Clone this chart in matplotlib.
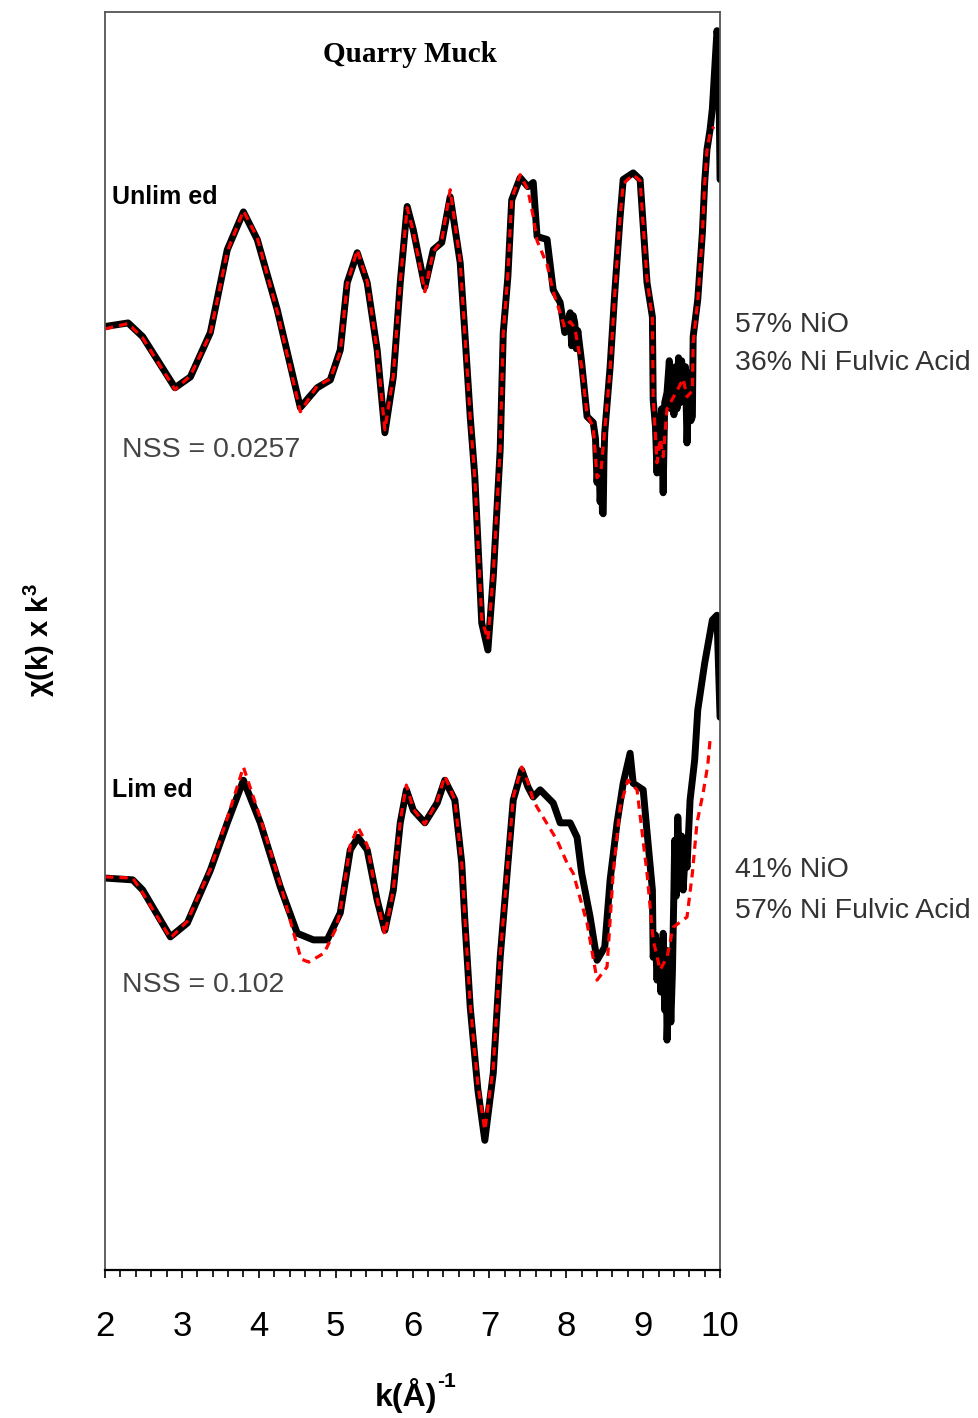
import numpy as np
import matplotlib
matplotlib.use("Agg")
import matplotlib.pyplot as plt
from matplotlib.ticker import MultipleLocator
from matplotlib.transforms import blended_transform_factory

plt.rcParams['font.family'] = ['Liberation Sans', 'DejaVu Sans']
plt.rcParams['mathtext.fontset'] = 'custom'
plt.rcParams['mathtext.rm'] = 'Liberation Sans'
plt.rcParams['mathtext.bf'] = 'Liberation Sans:bold'

# Unlimed sample: data (black) and linear combination fit (red)
k_unlimed = [2.00, 2.30, 2.49, 2.91, 3.11, 3.37, 3.59, 3.80, 3.98, 4.24, 4.54, 4.76, 4.93,
             5.06, 5.15, 5.28, 5.41, 5.54, 5.64, 5.75, 5.84, 5.93, 6.01, 6.16, 6.27, 6.38,
             6.49, 6.62, 6.68, 6.75, 6.81, 6.90, 6.98, 7.05, 7.14, 7.18, 7.24, 7.29, 7.40,
             7.50, 7.57, 7.62, 7.75, 7.83, 7.92, 7.98, 8.05, 8.07, 8.09, 8.11, 8.13, 8.15,
             8.20, 8.27, 8.35, 8.38, 8.40, 8.42, 8.44, 8.46, 8.47, 8.48, 8.49, 8.50, 8.57,
             8.63, 8.70, 8.74, 8.87, 8.96, 9.05, 9.12, 9.13, 9.16, 9.18, 9.20, 9.22, 9.24,
             9.26, 9.28, 9.31, 9.34, 9.36, 9.38, 9.40, 9.42, 9.44, 9.46, 9.48, 9.50, 9.52,
             9.55, 9.57, 9.60, 9.62, 9.64, 9.65, 9.71, 9.77, 9.80, 9.83, 9.87, 9.90, 9.96,
             9.98, 10.00]
chi_unlimed = [-0.03, 0.03, -0.20, -1.05, -0.87, -0.13, 1.25, 1.88, 1.42, 0.25, -1.38, -1.05, -0.92,
               -0.42, 0.70, 1.20, 0.70, -0.42, -1.80, -0.87, 0.70, 1.97, 1.58, 0.63, 1.25, 1.37,
               2.13, 1.03, -0.13, -1.53, -2.53, -4.97, -5.42, -4.20, -2.08, -0.13, 0.80, 2.08, 2.45,
               2.30, 2.37, 1.47, 1.42, 0.58, 0.37, -0.13, 0.20, -0.35, 0.15, 0.03, -0.40, -0.10,
               -0.63, -1.53, -1.63, -1.90, -2.63, -2.10, -2.95, -2.40, -3.13, -3.15, -2.20, -1.80, -0.70,
               0.53, 1.80, 2.42, 2.53, 2.42, 0.70, 0.13, -1.25, -1.70, -2.47, -1.60, -1.80, -1.40,
               -2.80, -1.30, -1.13, -0.60, -1.40, -0.75, -1.50, -0.70, -1.40, -0.55, -1.30, -0.60, -1.10,
               -0.70, -1.97, -0.80, -1.60, -1.53, -0.20, 0.42, 1.53, 2.37, 2.92, 3.25, 3.60, 4.90,
               4.70, 2.42]

k_unlimed_fit = [2.00, 2.30, 2.49, 2.91, 3.11, 3.37, 3.59, 3.80, 3.98, 4.24, 4.54, 4.76, 4.93,
                 5.06, 5.15, 5.28, 5.41, 5.54, 5.64, 5.75, 5.84, 5.93, 6.01, 6.16, 6.27, 6.38,
                 6.49, 6.62, 6.68, 6.75, 6.81, 6.90, 6.98, 7.05, 7.14, 7.18, 7.24, 7.29, 7.40,
                 7.50, 7.57, 7.62, 7.75, 7.83, 7.92, 7.98, 8.05, 8.11, 8.20, 8.27, 8.35, 8.40,
                 8.45, 8.50, 8.57, 8.63, 8.70, 8.74, 8.87, 8.96, 9.05, 9.12, 9.13, 9.18, 9.22,
                 9.26, 9.31, 9.44, 9.52, 9.57, 9.64, 9.65, 9.71, 9.77, 9.80, 9.83, 9.87, 9.92]
chi_unlimed_fit = [-0.07, 0.02, -0.22, -1.08, -0.85, -0.15, 1.22, 1.90, 1.45, 0.22, -1.45, -1.02, -0.90,
                   -0.45, 0.68, 1.25, 0.72, -0.45, -1.75, -0.85, 0.72, 1.95, 1.55, 0.55, 1.22, 1.40,
                   2.25, 1.05, -0.15, -1.55, -2.55, -4.90, -5.25, -4.15, -2.05, -0.15, 0.85, 2.10, 2.50,
                   2.25, 1.80, 1.40, 1.00, 0.55, 0.20, -0.05, 0.05, -0.05, -0.70, -1.50, -1.70, -2.55,
                   -2.45, -1.75, -0.75, 0.50, 1.80, 2.35, 2.50, 2.40, 0.75, 0.10, -1.20, -2.30, -1.90,
                   -2.20, -1.40, -1.10, -0.90, -1.20, -1.10, -0.30, 0.40, 1.50, 2.35, 2.90, 3.20, 3.30]

# Limed sample: data (black) and linear combination fit (red)
k_limed = [2.00, 2.36, 2.49, 2.85, 3.07, 3.37, 3.59, 3.80, 4.02, 4.28, 4.50, 4.71, 4.89,
           5.06, 5.19, 5.29, 5.41, 5.54, 5.64, 5.75, 5.84, 5.92, 6.01, 6.16, 6.32, 6.42,
           6.55, 6.64, 6.68, 6.75, 6.85, 6.94, 7.05, 7.14, 7.23, 7.31, 7.42, 7.50, 7.57,
           7.66, 7.83, 7.92, 8.05, 8.14, 8.20, 8.31, 8.40, 8.50, 8.57, 8.66, 8.74, 8.83,
           8.87, 9.00, 9.06, 9.12, 9.13, 9.16, 9.18, 9.20, 9.23, 9.26, 9.28, 9.30, 9.31,
           9.34, 9.36, 9.38, 9.40, 9.41, 9.43, 9.45, 9.48, 9.50, 9.52, 9.55, 9.57, 9.61,
           9.67, 9.71, 9.80, 9.90, 9.96, 9.98, 10.00]
chi_limed = [0.00, -0.03, -0.20, -0.98, -0.75, 0.13, 0.92, 1.63, 0.92, -0.15, -0.92, -1.03, -1.03,
             -0.58, 0.47, 0.68, 0.47, -0.37, -0.87, -0.20, 0.92, 1.47, 1.13, 0.92, 1.25, 1.63,
             1.30, 0.25, -0.70, -2.15, -3.53, -4.37, -3.25, -1.32, 0.08, 1.30, 1.80, 1.52, 1.35,
             1.47, 1.25, 0.92, 0.92, 0.68, 0.08, -0.65, -1.37, -1.15, -0.03, 0.92, 1.58, 2.08,
             1.58, 1.47, 0.63, -0.20, -1.32, -0.95, -1.70, -1.05, -1.90, -0.92, -2.20, -1.20, -2.70,
             -1.50, -2.40, -1.58, -0.20, 0.63, -0.30, 1.02, 0.00, 0.70, -0.20, 0.50, 0.18, 1.30,
             1.97, 2.80, 3.58, 4.30, 4.38, 3.52, 2.68]

k_limed_fit = [2.00, 2.36, 2.49, 2.85, 3.07, 3.37, 3.59, 3.80, 4.02, 4.28, 4.45, 4.55, 4.65,
               4.85, 5.00, 5.06, 5.19, 5.29, 5.41, 5.54, 5.64, 5.75, 5.84, 5.92, 6.01, 6.16,
               6.32, 6.42, 6.55, 6.64, 6.68, 6.75, 6.85, 6.94, 7.05, 7.14, 7.23, 7.31, 7.42,
               7.50, 7.57, 7.62, 7.88, 8.01, 8.09, 8.27, 8.40, 8.53, 8.61, 8.70, 8.80, 8.92,
               9.05, 9.13, 9.22, 9.31, 9.39, 9.57, 9.64, 9.70, 9.78, 9.84, 9.87]
chi_limed_fit = [0.02, 0.00, -0.25, -1.00, -0.72, 0.15, 1.00, 1.85, 1.00, -0.10, -0.90, -1.35, -1.40,
                 -1.25, -0.85, -0.55, 0.55, 0.85, 0.55, -0.35, -0.95, -0.20, 0.95, 1.55, 1.15, 0.90,
                 1.28, 1.70, 1.30, 0.25, -0.65, -2.10, -3.45, -4.20, -3.15, -1.30, 0.10, 1.35, 1.85,
                 1.60, 1.30, 1.18, 0.63, 0.25, 0.08, -0.75, -1.70, -1.48, 0.08, 1.18, 1.63, 1.47,
                 0.08, -1.03, -1.53, -1.32, -0.82, -0.65, 0.08, 0.92, 1.42, 1.88, 2.30]

unlimed_offset = 9.22

fig = plt.figure(figsize=(9.79, 14.18), dpi=100)
ax = fig.add_axes([0.1073, 0.1044, 0.6282, 0.8871])

ax.plot(k_unlimed, np.array(chi_unlimed) + unlimed_offset, color='black', lw=5,
        solid_joinstyle='round', solid_capstyle='round')
ax.plot(k_unlimed_fit, np.array(chi_unlimed_fit) + unlimed_offset, color='#ff0000', lw=2.3,
        dashes=(2.6, 1.9))
ax.plot(k_limed, chi_limed, color='black', lw=5,
        solid_joinstyle='round', solid_capstyle='round')
ax.plot(k_limed_fit, chi_limed_fit, color='#ff0000', lw=2.3, dashes=(2.6, 1.9))

ax.set_xlim(2, 10)
ax.set_ylim(-6.53, 14.43)
ax.xaxis.set_major_locator(MultipleLocator(1))
ax.xaxis.set_minor_locator(MultipleLocator(0.2))
ax.tick_params(axis='x', which='major', direction='out', length=6, width=1.2,
               labelsize=25, pad=23)
ax.tick_params(axis='x', which='minor', direction='out', length=5, width=1.2)
ax.set_yticks([])

for side in ['left', 'top', 'right']:
    ax.spines[side].set_color('#555555')
    ax.spines[side].set_linewidth(1.3)
ax.spines['bottom'].set_color('black')
ax.spines['bottom'].set_linewidth(1.6)

ax.text(0.496, 0.966, 'Quarry Muck', transform=ax.transAxes, ha='center', va='center',
        fontsize=21, fontweight='bold', family='Liberation Serif')

ax.text(2.09, 11.35, 'Unlim ed', fontsize=18, fontweight='bold', va='center', ha='left')
ax.text(2.22, 7.13, 'NSS = 0.0257', fontsize=20.5, color='#444444', va='center', ha='left')
ax.text(2.09, 1.47, 'Lim ed', fontsize=18, fontweight='bold', va='center', ha='left')
ax.text(2.22, -1.78, 'NSS = 0.102', fontsize=20.5, color='#444444', va='center', ha='left')

side = blended_transform_factory(ax.transAxes, ax.transData)
for label, y in [('57% NiO', 9.22), ('36% Ni Fulvic Acid', 8.58),
                 ('41% NiO', 0.13), ('57% Ni Fulvic Acid', -0.55)]:
    ax.text(1.024, y, label, transform=side, fontsize=20.5, color='#333333',
            va='center', ha='left', clip_on=False)

ax.text(-0.106, 0.501, r'χ(k) x k$^{\mathbf{3}}$', transform=ax.transAxes, rotation=90,
        ha='center', va='center', fontsize=21, fontweight='bold')

# x label with a plain hyphen in the exponent
xlab = ax.text(0.49, -0.1, 'k(Å)', transform=ax.transAxes,
               ha='center', va='center', fontsize=23, fontweight='bold')
ax.annotate('-1', xy=(0.99, 0.92), xycoords=xlab, ha='left', va='center',
            fontsize=15, fontweight='bold')

fig.savefig('out.png', dpi=100)
